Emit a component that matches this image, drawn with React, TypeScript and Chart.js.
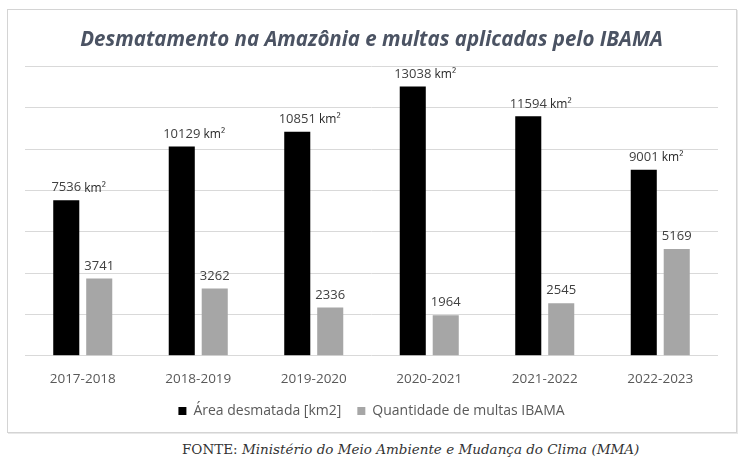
import React, { useEffect, useRef } from "react";
import { Chart, registerables } from "chart.js";

Chart.register(...registerables);

const categories = ["2017-2018", "2018-2019", "2019-2020", "2020-2021", "2021-2022", "2022-2023"];
const areaDesmatada = [7536, 10129, 10851, 13038, 11594, 9001];
const multasIbama = [3741, 3262, 2336, 1964, 2545, 5169];
const seriesNames = ["Área desmatada [km2]", "Quantidade de multas IBAMA"];
const yMin = 0;
const yMax = 14000;
const yStep = 2000;
const titleText = "Desmatamento na Amazônia e multas aplicadas pelo IBAMA";
const unitSuffix = " km²";

const valueLabels = {
  id: "valueLabels",
  afterDatasetsDraw(chart: any) {
    const ctx = chart.ctx;
    ctx.save();
    ctx.textBaseline = "bottom";
    chart.data.datasets.forEach((ds: any, i: number) => {
      const meta = chart.getDatasetMeta(i);
      meta.data.forEach((bar: any, j: number) => {
        const txt = String(ds.data[j]);
        ctx.font = "13px 'Open Sans'";
        ctx.fillStyle = "#404040";
        ctx.textAlign = "center";
        const y = bar.y - 6;
        ctx.fillText(txt, bar.x, y);
        if (i === 0) {
          const w = ctx.measureText(txt).width;
          ctx.textAlign = "left";
          ctx.fillStyle = "#262626";
          ctx.font = "12px 'Open Sans'";
          ctx.fillText(unitSuffix, bar.x + w / 2, y);
        }
      });
    });
    ctx.restore();
  },
};

export default function App() {
  const ref = useRef<HTMLCanvasElement | null>(null);

  useEffect(() => {
    if (!ref.current) return;
    const chart = new Chart(ref.current, {
      type: "bar",
      data: {
        labels: categories,
        datasets: [
          {
            label: seriesNames[0],
            data: areaDesmatada,
            backgroundColor: "#000000",
            categoryPercentage: 0.571,
            barPercentage: 0.79,
          },
          {
            label: seriesNames[1],
            data: multasIbama,
            backgroundColor: "#a6a6a6",
            categoryPercentage: 0.571,
            barPercentage: 0.79,
          },
        ],
      },
      options: {
        animation: false,
        responsive: false,
        layout: { padding: { left: 17, right: 18, top: 0, bottom: 4 } },
        plugins: {
          title: {
            display: true,
            text: titleText,
            color: "#4b5363",
            font: { family: "'Open Sans'", size: 20.5, weight: "bold", style: "italic" },
            padding: { top: 18, bottom: 14 },
          },
          legend: {
            position: "bottom",
            labels: {
              boxWidth: 8,
              boxHeight: 8,
              padding: 16,
              color: "#595959",
              font: { family: "'Open Sans'", size: 14 },
            },
          },
          tooltip: { enabled: false },
        },
        scales: {
          x: {
            grid: { display: false },
            border: { display: false },
            ticks: {
              color: "#595959",
              padding: 7,
              font: { family: "'Open Sans'", size: 13.5 },
            },
            afterFit(scale: any) {
              scale.height = scale.height - 6;
            },
          },
          y: {
            min: yMin,
            max: yMax,
            ticks: { stepSize: yStep, display: false },
            grid: { color: "#d9d9d9", drawTicks: false },
            border: { display: false },
          },
        },
      },
      plugins: [valueLabels],
    });
    return () => chart.destroy();
  }, []);

  return (
    <div style={{ position: "absolute", left: 0, top: 0, width: 742, height: 465, background: "#fff" }}>
      <div
        style={{
          position: "absolute",
          left: 7,
          top: 9,
          width: 730,
          height: 424,
          boxSizing: "border-box",
          border: "1px solid #d4d4d4",
          boxShadow: "1px 1px 0 #e8e8e8",
        }}
      >
        <canvas ref={ref} width={728} height={422} style={{ display: "block" }} />
      </div>
      <div
        style={{
          position: "absolute",
          left: 182,
          top: 441,
          fontFamily: "'DejaVu Serif', serif",
          fontSize: 13.5,
          color: "#333",
          whiteSpace: "nowrap",
        }}
      >
        FONTE: <i>Ministério do Meio Ambiente e Mudança do Clima (MMA)</i>
      </div>
    </div>
  );
}
